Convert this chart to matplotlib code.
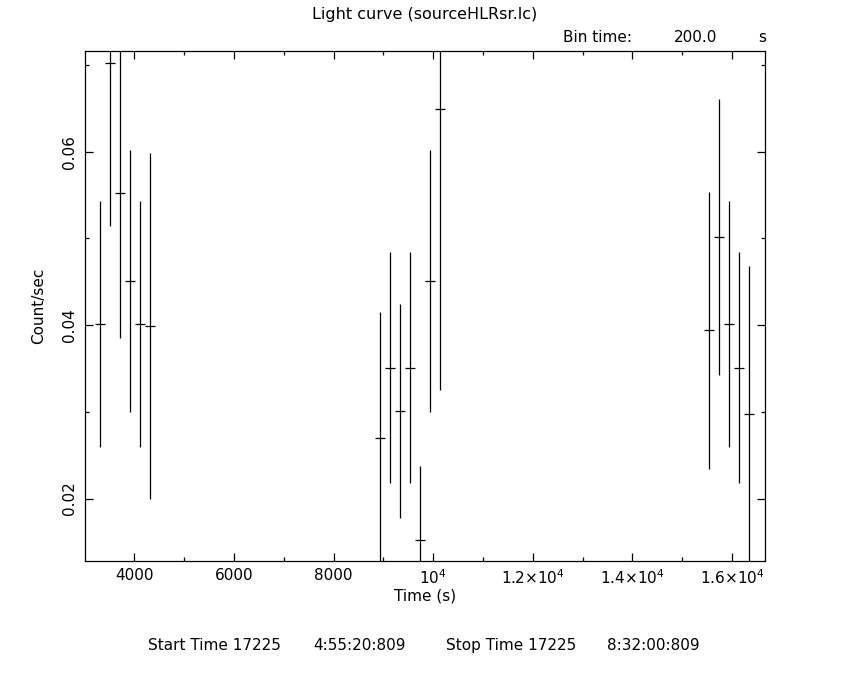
import numpy as np
import matplotlib
matplotlib.use('Agg')
import matplotlib.pyplot as plt
from matplotlib.ticker import MultipleLocator, FixedLocator, FixedFormatter

# --- datos de la curva de luz (bin de 200 s) ---
tiempo = [3320, 3520, 3720, 3920, 4120, 4320,
          8930, 9130, 9330, 9530, 9730, 9930, 10130,
          15530, 15730, 15930, 16130, 16330]
cuentas = [0.0401, 0.0702, 0.0552, 0.0451, 0.0401, 0.0399,
           0.0270, 0.0351, 0.0301, 0.0351, 0.0152, 0.0451, 0.0649,
           0.0394, 0.0502, 0.0401, 0.0351, 0.0297]
error = [0.0142, 0.0188, 0.0167, 0.0151, 0.0142, 0.0199,
         0.0145, 0.0133, 0.0123, 0.0133, 0.0086, 0.0151, 0.0324,
         0.0160, 0.0159, 0.0142, 0.0133, 0.0171]
medio_bin = 100

x_ticks = [4000, 6000, 8000, 10000, 12000, 14000, 16000]
x_labels = ['4000', '6000', '8000', r'$10^4$', r'$1.2{\times}10^4$',
            r'$1.4{\times}10^4$', r'$1.6{\times}10^4$']
y_ticks = [0.02, 0.04, 0.06]
y_labels = ['0.02', '0.04', '0.06']

plt.rcParams['font.family'] = 'DejaVu Sans'
fs = 11
fig = plt.figure(figsize=(8.5, 6.8), dpi=100)
ax = fig.add_axes([0.1, 0.175, 0.8, 0.75])

ax.errorbar(tiempo, cuentas, yerr=error, xerr=medio_bin, fmt='none',
            ecolor='black', elinewidth=0.9, capsize=0)

ax.set_xlim(3010, 16660)
ax.set_ylim(0.0128, 0.0716)

ax.xaxis.set_major_locator(FixedLocator(x_ticks))
ax.xaxis.set_major_formatter(FixedFormatter(x_labels))
ax.xaxis.set_minor_locator(MultipleLocator(1000))
ax.yaxis.set_major_locator(FixedLocator(y_ticks))
ax.yaxis.set_major_formatter(FixedFormatter(y_labels))
ax.yaxis.set_minor_locator(MultipleLocator(0.01))

ax.tick_params(which='both', direction='in', top=True, right=True,
               width=0.9, labelsize=fs, color='black')
ax.tick_params(which='major', length=6)
ax.tick_params(which='minor', length=3)
ax.tick_params(axis='x', pad=5)
ax.tick_params(axis='y', pad=6)
for lbl in ax.get_yticklabels():
    lbl.set_rotation(90)
    lbl.set_va('center')
for s in ax.spines.values():
    s.set_linewidth(0.9)

ax.set_xlabel('Time (s)', fontsize=fs, labelpad=1)
ax.set_ylabel('Count/sec', fontsize=fs, labelpad=11)

fig.text(0.5, 0.978, 'Light curve (sourceHLRsr.lc)', ha='center', va='center', fontsize=fs + 0.5)
fig.text(0.662, 0.945, 'Bin time:', ha='left', va='center', fontsize=fs)
fig.text(0.8435, 0.945, '200.0', ha='right', va='center', fontsize=fs)
fig.text(0.897, 0.945, 's', ha='center', va='center', fontsize=fs)

# linea inferior con tiempos de inicio y fin
pie = ['Start Time 17225', '4:55:20:809', 'Stop Time 17225', '8:32:00:809']
pie_x = [148, 313, 446, 607]
for txt, px in zip(pie, pie_x):
    fig.text(px / 850, 0.051, txt, ha='left', va='center', fontsize=fs)

fig.savefig('out.png', dpi=100, facecolor='white')
